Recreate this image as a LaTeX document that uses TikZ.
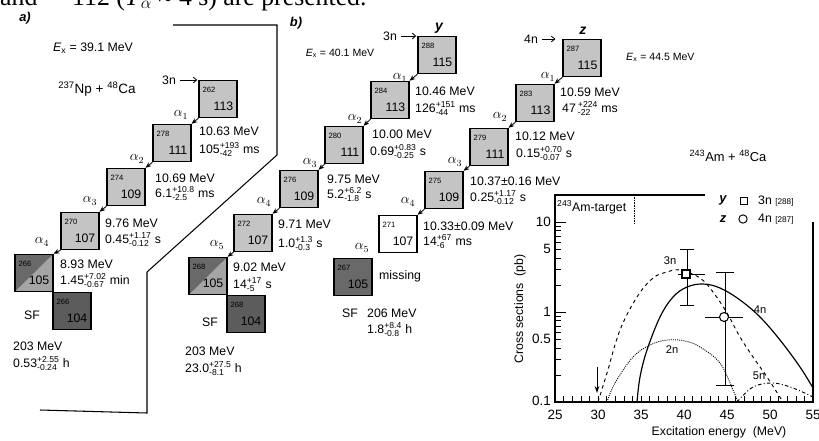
\documentclass[tikz,border=0pt]{standalone}
\usepackage{amsmath}
\usepackage{fontspec}
\setmainfont{Liberation Sans}
\newfontfamily\pageserif{Liberation Serif}
\usepackage{tikz}
\usetikzlibrary{positioning,arrows.meta}

\definecolor{lightnuc}{RGB}{196,196,196}
\definecolor{midnuc}{RGB}{165,165,165}
\definecolor{darknuc}{RGB}{105,105,105}
\definecolor{darkernuc}{RGB}{92,92,92}

\newcommand{\massno}[1]{{\fontsize{6.5}{7}\selectfont #1}}
\newcommand{\errv}[3]{#1$^{\text{#2}}_{\text{#3}}$}

\tikzset{
  nucbox/.style={draw, line width=0.9pt, minimum width=1.14cm, minimum height=1.12cm, inner sep=0pt, text width=0.92cm, align=left, font=\fontsize{10.5}{10.5}\selectfont},
  halfnuc/.style={fill=darknuc, path picture={\fill[midnuc] (path picture bounding box.north east) -- (path picture bounding box.south east) -- (path picture bounding box.south west) -- cycle;}},
  decay/.style={-{Stealth[length=5pt,width=4pt]}, line width=0.7pt},
  feed/.style={-{Straight Barb[length=3pt,width=5pt]}, line width=0.7pt, shorten >=1pt},
  alab/.style={inner sep=0pt, font=\fontsize{11.5}{12}\selectfont},
  info/.style={anchor=base west, inner sep=0pt},
  panelline/.style={line width=0.9pt},
  axisline/.style={line width=0.9pt},
  ticklab/.style={inner sep=0pt, font=\fontsize{11.5}{12}\selectfont},
  curvelab/.style={inner sep=0pt, font=\fontsize{9.5}{10}\selectfont},
}

\begin{document}
\begin{tikzpicture}[x=0.03cm, y=-0.03cm, font=\fontsize{10.5}{12}\selectfont]
    \useasboundingbox (0,0) rectangle (819,440);
    \clip (0,0) rectangle (819,440);

    % Page text cut off at the top
    \node[info, font=\pageserif\fontsize{22}{24}\selectfont] (pgand) at (0,5) {and};
    \node[info, font=\pageserif\fontsize{22}{24}\selectfont] (pgline) at (72,5) {112 (\textit{T}$_\alpha$ ≈ 4 s) are presented.};

    % a) 237Np + 48Ca chain
    \node[font=\bfseries\itshape\fontsize{11}{12}\selectfont] (pana) at (25,18) {a)};
    \draw[panelline] (173,25) -- (277,25) -- (277,155) -- (147,272) -- (147,413) -- (40,410);
    \node[font=\fontsize{10.5}{12}\selectfont] (exa) at (93,48) {\textit{E}\textsubscript{x} = 39.1 MeV};
    \node[font=\fontsize{11.5}{12}\selectfont] (reaca) at (97,89) {\textsuperscript{237}Np + \textsuperscript{48}Ca};

    \node[nucbox, fill=lightnuc] (a113) at (218,99) {\massno{262}\\[5pt]\hspace*{\fill}113};
    \node[nucbox, fill=lightnuc] (a111) at (172,143) {\massno{278}\\[5pt]\hspace*{\fill}111};
    \node[nucbox, fill=lightnuc] (a109) at (126,187) {\massno{274}\\[5pt]\hspace*{\fill}109};
    \node[nucbox, fill=lightnuc] (a107) at (80,231) {\massno{270}\\[5pt]\hspace*{\fill}107};
    \node[nucbox, halfnuc] (a105) at (34,273) {\massno{266}\\[5pt]\hspace*{\fill}105};
    \node[nucbox, fill=darkernuc] (a104) at (72,311) {\massno{266}\\[5pt]\hspace*{\fill}104};

    \node (a3n) at (169,80) {3n};
    \draw[feed] (a3n.east) -- (a3n.east -| a113.west);

    \draw[decay] (a113.south west) -- (a111.north east);
    \draw[decay] (a111.south west) -- (a109.north east);
    \draw[decay] (a109.south west) -- (a107.north east);
    \draw[decay] (a107.south west) -- (a105.north east);
    \node[alab] (aal1) at (181,115) {$\alpha_1$};
    \node[alab] (aal2) at (137,159) {$\alpha_2$};
    \node[alab] (aal3) at (90,201) {$\alpha_3$};
    \node[alab] (aal4) at (42,242) {$\alpha_4$};

    \node[info] (ae1) at (199,135) {10.63 MeV};
    \node[info] (at1) at (199,153) {\errv{105}{+193}{-42} ms};
    \node[info] (ae2) at (155,182) {10.69 MeV};
    \node[info] (at2) at (155,197) {\errv{6.1}{+10.8}{-2.5} ms};
    \node[info] (ae3) at (105,227) {9.76 MeV};
    \node[info] (at3) at (105,243) {\errv{0.45}{+1.17}{-0.12} s};
    \node[info] (ae4) at (60,268) {8.93 MeV};
    \node[info] (at4) at (60,284) {\errv{1.45}{+7.02}{-0.67} min};
    \node (asf) at (32,315) {SF};
    \node[info] (asfe) at (13,350) {203 MeV};
    \node[info] (asft) at (13,367) {\errv{0.53}{+2.55}{-0.24} h};

    % b) 243Am + 48Ca, 3n chain (y)
    \node[font=\bfseries\itshape\fontsize{11}{12}\selectfont] (panb) at (296,23) {b)};
    \node[font=\fontsize{9}{11}\selectfont] (exb) at (340,53) {\textit{E}\textsubscript{x} = 40.1 MeV};

    \node[nucbox, fill=lightnuc] (b115) at (437,55) {\massno{288}\\[5pt]\hspace*{\fill}115};
    \node[nucbox, fill=lightnuc] (b113) at (390,100) {\massno{284}\\[5pt]\hspace*{\fill}113};
    \node[nucbox, fill=lightnuc] (b111) at (344,145) {\massno{280}\\[5pt]\hspace*{\fill}111};
    \node[nucbox, fill=lightnuc] (b109) at (299,189) {\massno{276}\\[5pt]\hspace*{\fill}109};
    \node[nucbox, fill=lightnuc] (b107) at (253,233) {\massno{272}\\[5pt]\hspace*{\fill}107};
    \node[nucbox, halfnuc] (b105) at (208,276) {\massno{268}\\[5pt]\hspace*{\fill}105};
    \node[nucbox, fill=darkernuc] (b104) at (246,314) {\massno{268}\\[5pt]\hspace*{\fill}104};

    \node[font=\bfseries\itshape\fontsize{12}{12}\selectfont] (ylab) at (439,28) {y};
    \node (b3n) at (390,36) {3n};
    \draw[feed] (b3n.east) -- (b3n.east -| b115.west);

    \draw[decay] (b115.south west) -- (b113.north east);
    \draw[decay] (b113.south west) -- (b111.north east);
    \draw[decay] (b111.south west) -- (b109.north east);
    \draw[decay] (b109.south west) -- (b107.north east);
    \draw[decay] (b107.south west) -- (b105.north east);
    \node[alab] (bal1) at (400,78) {$\alpha_1$};
    \node[alab] (bal2) at (355,119) {$\alpha_2$};
    \node[alab] (bal3) at (310,163) {$\alpha_3$};
    \node[alab] (bal4) at (264,202) {$\alpha_4$};
    \node[alab] (bal5) at (217,245) {$\alpha_5$};

    \node[info] (be1) at (415,95) {10.46 MeV};
    \node[info] (bt1) at (415,112) {\errv{126}{+151}{-44} ms};
    \node[info] (be2) at (372,138) {10.00 MeV};
    \node[info] (bt2) at (370,155) {\errv{0.69}{+0.83}{-0.25} s};
    \node[info] (be3) at (327,183) {9.75 MeV};
    \node[info] (bt3) at (327,198) {\errv{5.2}{+6.2}{-1.8} s};
    \node[info] (be4) at (278,228) {9.71 MeV};
    \node[info] (bt4) at (278,247) {\errv{1.0}{+1.3}{-0.3} s};
    \node[info] (be5) at (233,271) {9.02 MeV};
    \node[info] (bt5) at (233,288) {\errv{14}{+17}{-5} s};
    \node (bsf) at (210,322) {SF};
    \node[info] (bsfe) at (185,355) {203 MeV};
    \node[info] (bsft) at (185,372) {\errv{23.0}{+27.5}{-8.1} h};

    % 4n chain (z)
    \node[nucbox, fill=lightnuc] (c115) at (582,58) {\massno{287}\\[5pt]\hspace*{\fill}115};
    \node[nucbox, fill=lightnuc] (c113) at (535,103) {\massno{283}\\[5pt]\hspace*{\fill}113};
    \node[nucbox, fill=lightnuc] (c111) at (489,147) {\massno{279}\\[5pt]\hspace*{\fill}111};
    \node[nucbox, fill=lightnuc] (c109) at (444,190) {\massno{275}\\[5pt]\hspace*{\fill}109};
    \node[nucbox, fill=white] (c107) at (398,234) {\massno{271}\\[5pt]\hspace*{\fill}107};
    \node[nucbox, fill=darknuc] (c105) at (353,277) {\massno{267}\\[5pt]\hspace*{\fill}105};

    \node[font=\bfseries\itshape\fontsize{12}{12}\selectfont] (zlab) at (583,31) {z};
    \node (c4n) at (531,39) {4n};
    \draw[feed] (c4n.east) -- ([xshift=-5pt]c4n.east -| c115.west);
    \node[font=\fontsize{9}{11}\selectfont, anchor=west] (exc) at (622,57) {\textit{E}\textsubscript{x} = 44.5 MeV};

    \draw[decay] (c115.south west) -- (c113.north east);
    \draw[decay] (c113.south west) -- (c111.north east);
    \draw[decay] (c111.south west) -- (c109.north east);
    \draw[decay] (c109.south west) -- (c107.north east);
    \node[alab] (cal1) at (548,77) {$\alpha_1$};
    \node[alab] (cal2) at (500,117) {$\alpha_2$};
    \node[alab] (cal3) at (455,162) {$\alpha_3$};
    \node[alab] (cal4) at (408,202) {$\alpha_4$};
    \node[alab] (cal5) at (362,248) {$\alpha_5$};

    \node[info] (ce1) at (560,96) {10.59 MeV};
    \node[info] (ct1) at (562,112) {47\,\errv{}{+224}{-22} ms};
    \node[info] (ce2) at (515,140) {10.12 MeV};
    \node[info] (ct2) at (516,157) {\errv{0.15}{+0.70}{-0.07} s};
    \node[info] (ce3) at (470,185) {10.37±0.16 MeV};
    \node[info] (ct3) at (470,201) {\errv{0.25}{+1.17}{-0.12} s};
    \node[info] (ce4) at (423,230) {10.33±0.09 MeV};
    \node[info] (ct4) at (423,245) {\errv{14}{+67}{-6} ms};
    \node[info] (cmiss) at (379,279) {missing};
    \node[info] (csf) at (342,317) {SF};
    \node[info] (csfe) at (367,317) {206 MeV};
    \node[info] (csft) at (367,333) {\errv{1.8}{+8.4}{-0.8} h};

    \node[font=\fontsize{11}{12}\selectfont] (reacb) at (728,156) {\textsuperscript{243}Am + \textsuperscript{48}Ca};

    % Excitation function
    \draw[axisline] (705,195) -- (555,195) -- (555,402) -- (813,402) -- (813,222);
    \draw[densely dotted] (634,195) -- (634,224);
    \node[info, font=\fontsize{10.5}{12}\selectfont] (amtgt) at (557,211) {\textsuperscript{243}Am-target};
    \foreach \e in {26,...,54}
        \draw ({555+(\e-25)*8.6},402) -- ++(0,-6);
    \foreach \m in {2,...,9} {
        \draw (555,{402-90*log10(\m)}) -- ++(6,0);
        \draw (555,{312-90*log10(\m)}) -- ++(6,0);
    }
    \foreach \yy in {402,312,222}
        \draw (555,\yy) -- ++(11,0);
    \foreach \e in {25,30,...,55}
        \node[ticklab] (xt\e) at ({555+(\e-25)*8.6},415) {\e};
    \node[ticklab, anchor=east] (yt10) at (551,222) {10};
    \node[ticklab, anchor=east] (yt5) at (551,249) {5};
    \node[ticklab, anchor=east] (yt1) at (551,312) {1};
    \node[ticklab, anchor=east] (yt05) at (551,339) {0.5};
    \node[ticklab, anchor=east] (yt01) at (551,401) {0.1};
    \node[rotate=90, font=\fontsize{10.5}{12}\selectfont] (ytitle) at (520,309) {Cross sections\ \ (pb)};
    \node[font=\fontsize{10.5}{12}\selectfont] (xtitle) at (719,432) {Excitation energy\ \ (MeV)};

    \draw[line width=0.8pt, dashed] plot[smooth, tension=0.6] coordinates {(598,402) (607,373) (620,330) (637,297) (653,278) (667,272) (680,270) (700,278) (713,292) (727,313) (740,337) (753,357) (767,377) (783,402)};
    \draw[line width=1pt] plot[smooth, tension=0.6] coordinates {(637,402) (640,377) (647,350) (660,317) (673,297) (687,287) (703,284) (720,288) (740,300) (760,317) (780,340) (800,367) (813,388)};
    \draw[line width=0.8pt, densely dotted] plot[smooth, tension=0.6] coordinates {(607,402) (615,383) (633,357) (650,345) (667,340) (685,341) (700,347) (720,363) (733,390) (738,402)};
    \draw[line width=0.8pt, dash dot] plot[smooth, tension=0.6] coordinates {(737,402) (753,387) (773,383) (793,388) (813,397)};
    \node[curvelab] (l3n) at (670,261) {3n};
    \node[curvelab] (l4n) at (760,310) {4n};
    \node[curvelab] (l2n) at (672,350) {2n};
    \node[curvelab] (l5n) at (759,376) {5n};

    % data points
    \draw[line width=0.8pt] (687,249) -- (687,305);
    \draw[line width=0.8pt] (680,249) -- (694,249);
    \draw[line width=0.8pt] (680,305) -- (694,305);
    \draw[line width=0.8pt] (678,274) -- (705,274);
    \node[draw, line width=0.9pt, fill=white, minimum size=0.24cm, inner sep=0pt] (pt3n) at (686,274) {};
    \draw[line width=0.8pt] (725,272) -- (725,385);
    \draw[line width=0.8pt] (716,272) -- (734,272);
    \draw[line width=0.8pt] (716,385) -- (734,385);
    \draw[line width=0.8pt] (705,317) -- (743,317);
    \node[draw, circle, line width=0.9pt, fill=white, minimum size=0.27cm, inner sep=0pt] (pt4n) at (724,317) {};
    \draw[-{Stealth[length=6pt,width=4pt]}, line width=0.8pt] (597,367) -- (597,393);

    % legend
    \node[font=\bfseries\itshape\fontsize{11}{12}\selectfont] (legy) at (723,200) {y};
    \node[draw, line width=0.8pt, minimum size=0.23cm, inner sep=0pt] (legsq) at (744,201) {};
    \node[anchor=west, inner sep=0pt] (leg3n) at (758,201) {3n {\fontsize{7}{8}\selectfont [288]}};
    \node[font=\bfseries\itshape\fontsize{11}{12}\selectfont] (legz) at (723,219) {z};
    \node[draw, circle, line width=0.8pt, minimum size=0.25cm, inner sep=0pt] (legci) at (743,219) {};
    \node[anchor=west, inner sep=0pt] (leg4n) at (758,219) {4n {\fontsize{7}{8}\selectfont [287]}};
\end{tikzpicture}
\end{document}
